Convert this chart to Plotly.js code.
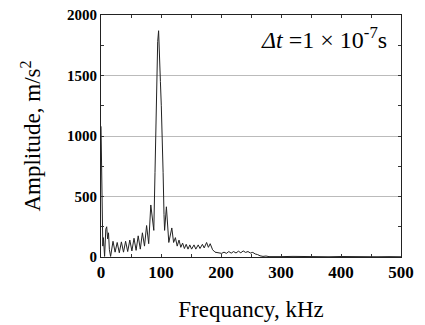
<!DOCTYPE html>
<html>
<head>
<meta charset="utf-8">
<script src="https://cdn.plot.ly/plotly-3.0.1.min.js"></script>
<style>html,body{margin:0;padding:0;background:#fff;}#chart{width:425px;height:325px;}</style>
</head>
<body>
<div id="chart"></div>
<script>
// Frequency (kHz)
var freq = [0,1,2,3,4,5,6,8,9.5,11,12.5,14,16,
  20,23.5,27,30.5,34,37.5,41,44.5,48,51.5,55,58.5,62,65.5,69,72.5,76,79.5,
  83,85.5,88,90,91.5,93,94.5,96,97.5,99,100.5,102,103.5,105,106,
  109,113,118,121,124,127,130,133,136,139,142,145,148,151,155,158,162,165,169,172,176,179,182,186,190,195,
  201,205,209,213,217,221,225,229,233,237,241,245,249,253,257,261,265,270,275,280,290,300,
  320,340,360,380,400,420,440,460,480,500];
// Amplitude (m/s^2)
var amp = [1080,650,200,90,160,40,5,230,250,150,200,60,5,
  130,40,120,35,125,40,130,45,140,50,155,55,175,65,200,90,260,110,
  430,300,220,700,1100,1500,1780,1870,1720,1450,1250,1050,700,350,220,
  415,120,240,120,160,90,140,80,115,70,105,65,100,65,100,65,100,70,105,75,120,80,110,60,40,35,
  30,40,30,45,32,45,33,48,35,50,38,45,33,38,25,20,10,5,8,3,6,3,
  5,2,4,2,4,2,3,2,3,2];
var xTicks = [0,100,200,300,400,500];
var yTicks = [0,500,1000,1500,2000];

var serif = 'Liberation Serif, Times New Roman, serif';
var trace = {
  x: freq, y: amp, type: 'scatter', mode: 'lines',
  line: {color: '#222', width: 1}, hoverinfo: 'skip'
};
var layout = {
  width: 425, height: 325,
  margin: {l: 101, r: 24, t: 15, b: 68},
  paper_bgcolor: '#fff', plot_bgcolor: '#fff',
  showlegend: false,
  xaxis: {
    range: [0, 500], tickvals: xTicks, ticktext: xTicks.map(String),
    ticks: 'inside', ticklen: 3, tickcolor: '#333',
    minor: {dtick: 50, ticks: 'inside', ticklen: 3, tickcolor: '#333'},
    showline: true, mirror: 'allticks', linecolor: '#222', linewidth: 1,
    showgrid: false, zeroline: false,
    tickfont: {family: serif, size: 17, color: '#000', weight: 'bold'},
    title: {text: 'Frequancy, kHz', font: {family: serif, size: 23, color: '#000'}, standoff: 19}
  },
  yaxis: {
    range: [0, 2000], tickvals: yTicks, ticktext: yTicks.map(String),
    ticks: 'inside', ticklen: 3, tickcolor: '#333',
    minor: {dtick: 250, ticks: 'inside', ticklen: 3, tickcolor: '#333', showgrid: false},
    showline: true, mirror: 'allticks', linecolor: '#222', linewidth: 1,
    showgrid: true, gridcolor: '#bbb', gridwidth: 1, zeroline: false,
    tickfont: {family: serif, size: 15, color: '#000', weight: 'bold'},
    title: {text: 'Amplitude, m/s<sup>2</sup>', font: {family: serif, size: 23, color: '#000'}, standoff: 19}
  },
  annotations: [{
    xref: 'paper', yref: 'paper', x: 0.96, y: 0.975, xanchor: 'right', yanchor: 'top',
    text: '<i>Δt</i> =1 × 10<sup>-7</sup>s', showarrow: false,
    font: {family: serif, size: 24, color: '#000'}
  }]
};
Plotly.newPlot('chart', [trace], layout, {displayModeBar: false, staticPlot: true});
</script>
</body>
</html>
